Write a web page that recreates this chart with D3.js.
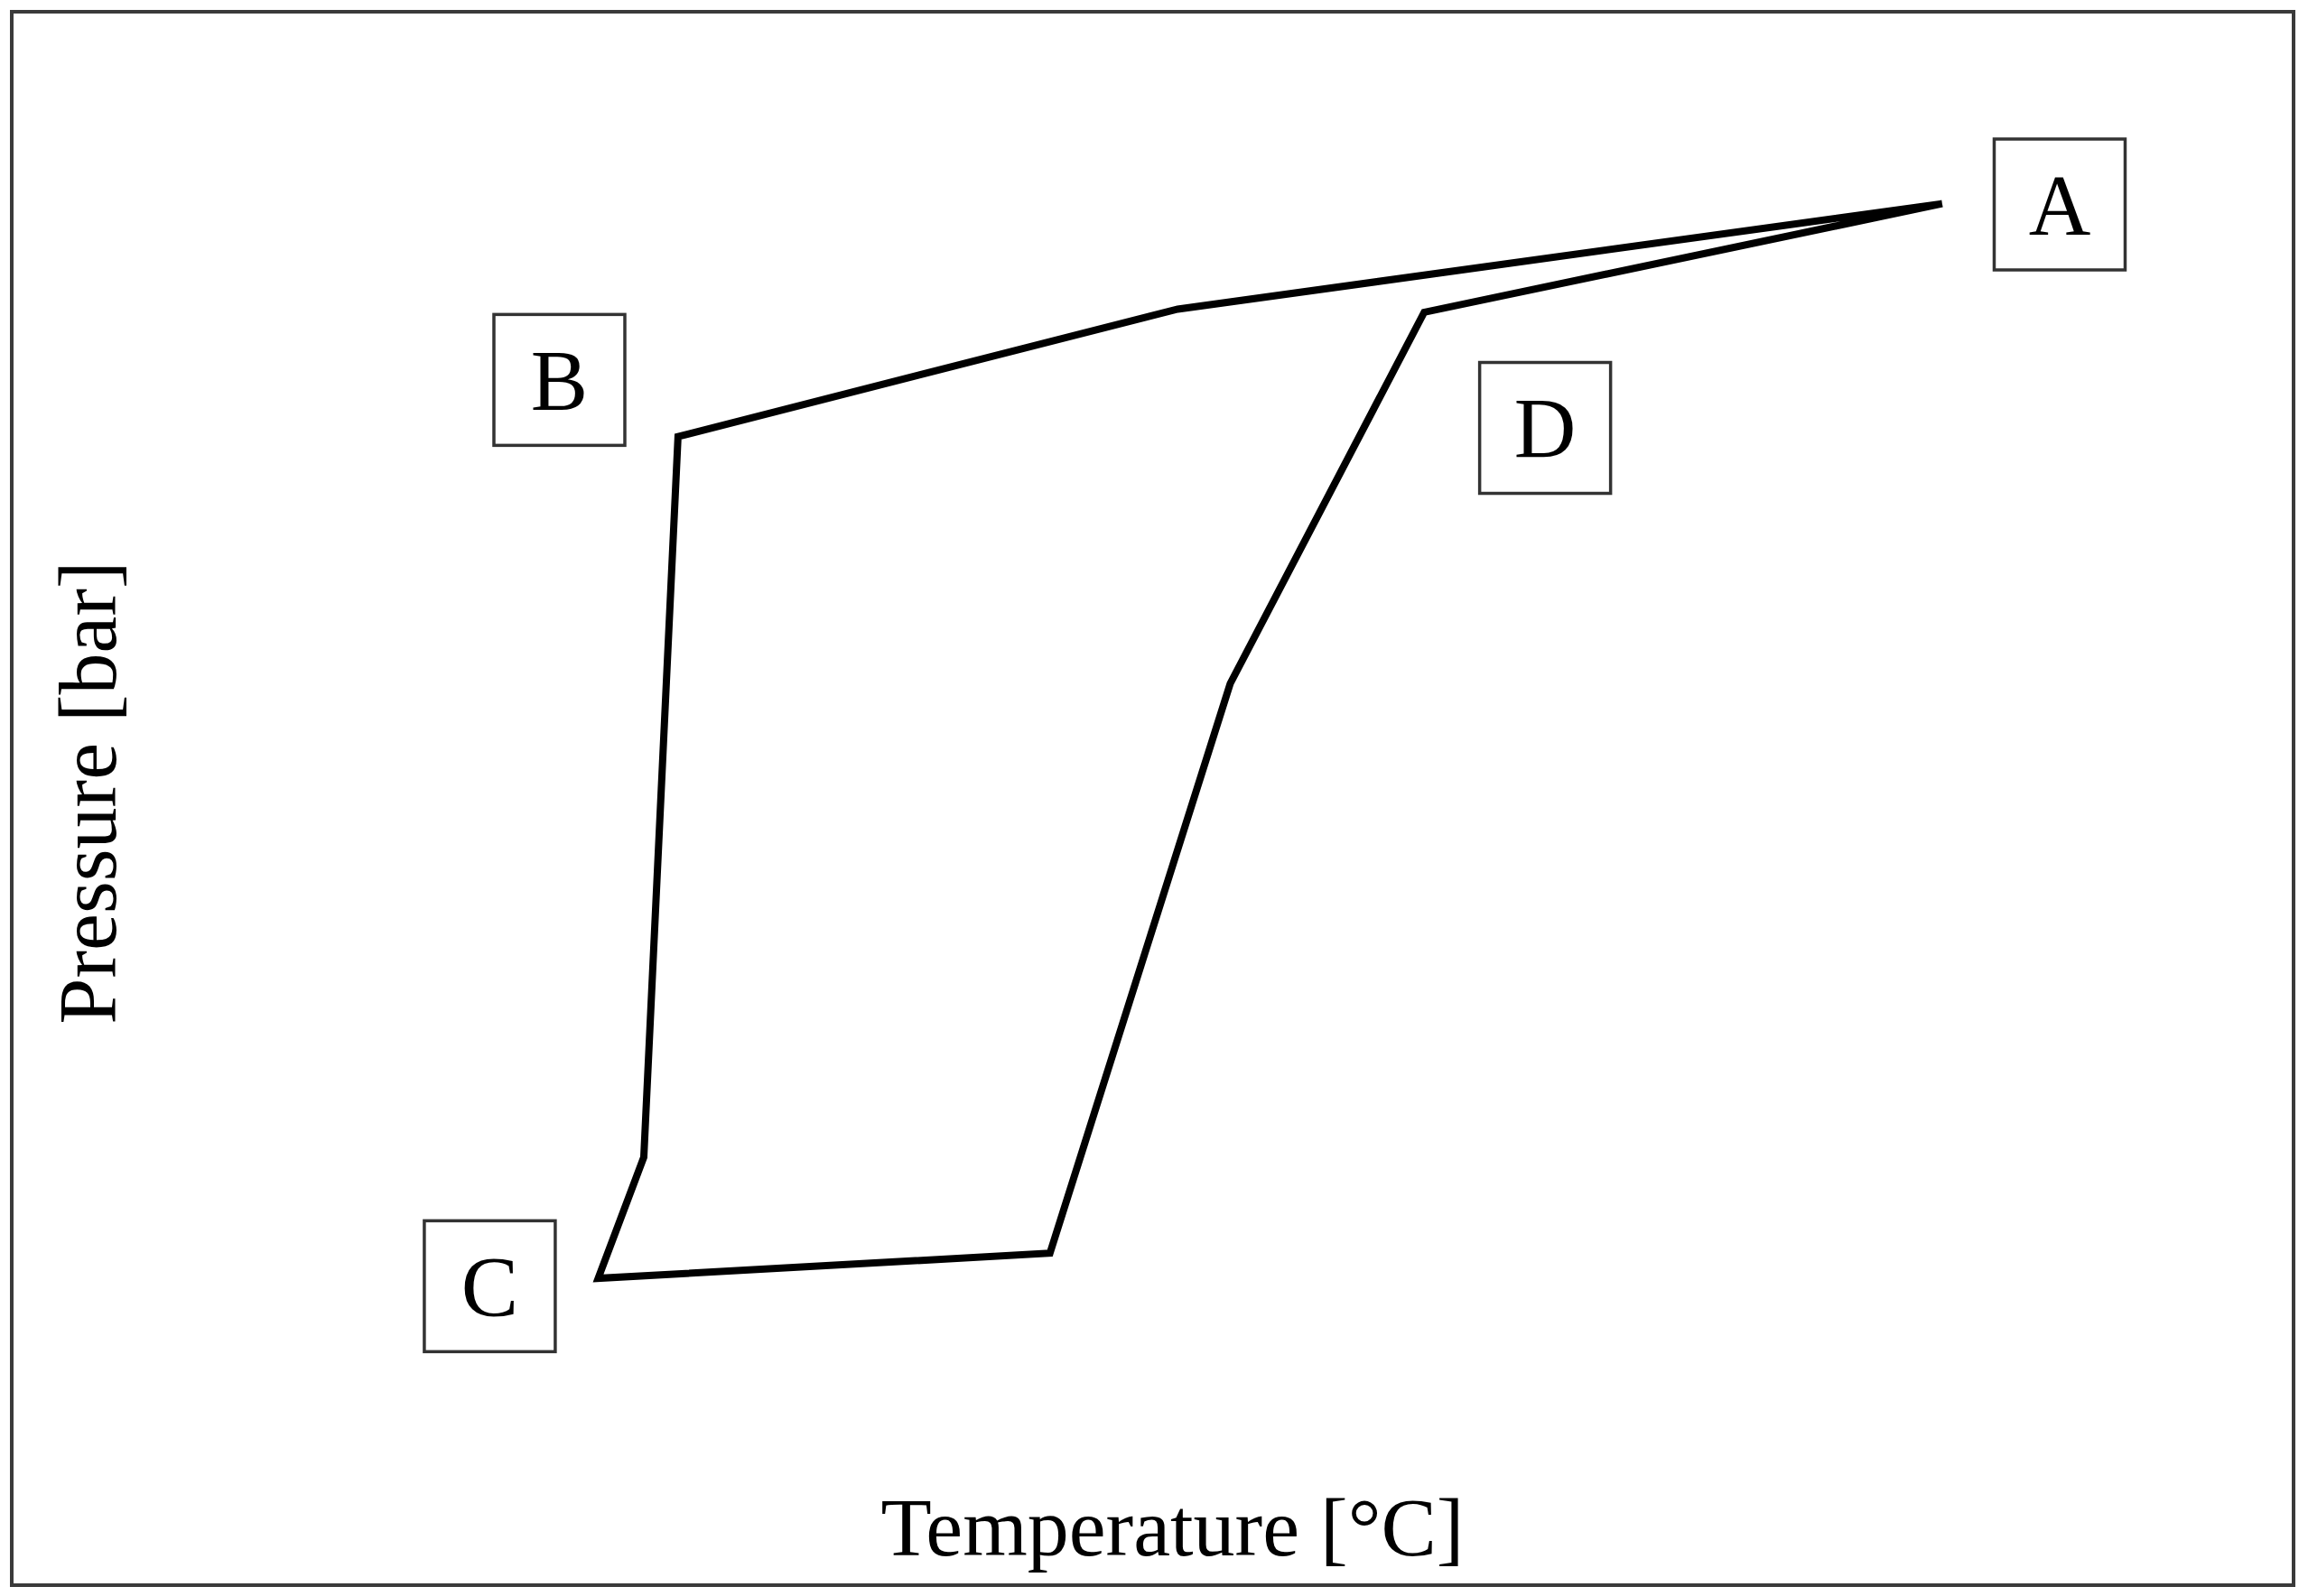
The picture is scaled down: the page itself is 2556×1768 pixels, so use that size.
<!DOCTYPE html>
<html>
<head>
  <meta charset="utf-8">
  <title>Pressure vs Temperature cycle</title>
  <script src="https://d3js.org/d3.v7.min.js"></script>
  <style>
    body { margin: 0; background: #fff; }
    text { font-family: "Liberation Serif", "Times New Roman", serif; fill: #000; }
  </style>
</head>
<body>
<svg id="chart" width="2556" height="1768"></svg>
<script>
// ---- data (arbitrary units, 0-100 on both axes) ----
const cycleTemp     = [84.6, 51.1, 29.2, 27.7, 25.7, 45.5, 53.4, 61.9, 84.6];
const cyclePressure = [87.8, 81.1, 73.0, 27.2, 19.5, 21.1, 57.3, 80.9, 87.8];

const stateNames    = ["A", "B", "C", "D"];
const stateTemp     = [89.75, 24.0, 20.95, 67.2];   // centre of each label box
const statePressure = [87.75, 76.6, 19.0, 73.55];

const xLabel = "Temperature [°C]";
const yLabel = "Pressure [bar]";

// ---- layout ----
const svg = d3.select("#chart");
const frame = { left: 13, top: 13, right: 2540, bottom: 1756 };

const x = d3.scaleLinear().domain([0, 100]).range([frame.left, frame.right]);
const y = d3.scaleLinear().domain([0, 100]).range([frame.bottom, frame.top]);

// outer frame
svg.append("rect")
   .attr("x", frame.left).attr("y", frame.top)
   .attr("width", frame.right - frame.left)
   .attr("height", frame.bottom - frame.top)
   .attr("fill", "none")
   .attr("stroke", "#3a3a3a")
   .attr("stroke-width", 4);

// the cycle line
const points = cycleTemp.map((t, i) => ({ t: t, p: cyclePressure[i] }));
const line = d3.line().x(d => x(d.t)).y(d => y(d.p));

svg.append("path")
   .datum(points)
   .attr("d", line)
   .attr("fill", "none")
   .attr("stroke", "#000")
   .attr("stroke-width", 8)
   .attr("stroke-linejoin", "miter");

// state label boxes
const boxSize = 145;
const states = stateNames.map((n, i) => ({ name: n, t: stateTemp[i], p: statePressure[i] }));

const g = svg.selectAll("g.state").data(states)
   .join("g").attr("class", "state")
   .attr("transform", d => `translate(${x(d.t)},${y(d.p)})`);

g.append("rect")
   .attr("x", -boxSize / 2).attr("y", -boxSize / 2)
   .attr("width", boxSize).attr("height", boxSize)
   .attr("fill", "#fff")
   .attr("stroke", "#333")
   .attr("stroke-width", 3.5);

g.append("text")
   .attr("text-anchor", "middle")
   .attr("y", 33)
   .style("font-size", "95px")
   .text(d => d.name);

// axis titles
svg.append("text")
   .attr("x", (frame.left + frame.right) / 2 + 22)
   .attr("y", 1723)
   .attr("text-anchor", "middle")
   .style("font-size", "92px")
   .text(xLabel);

svg.append("text")
   .attr("transform", "translate(128,878) rotate(-90)")
   .attr("text-anchor", "middle")
   .style("font-size", "92px")
   .text(yLabel);
</script>
</body>
</html>
